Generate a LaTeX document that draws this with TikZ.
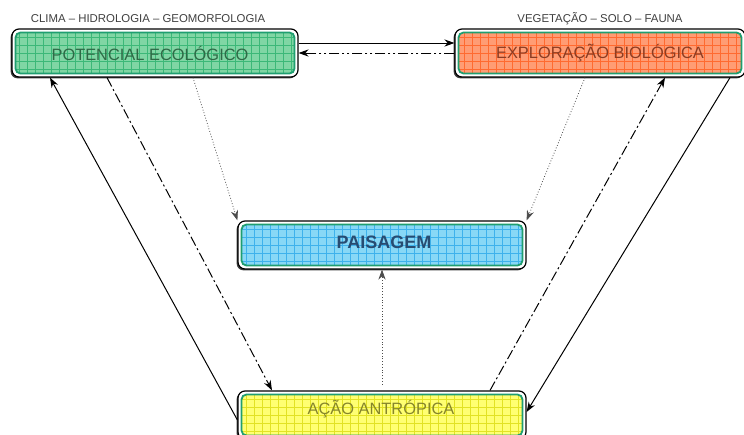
\documentclass[tikz,border=0pt]{standalone}
\usepackage{fontspec}
\setmainfont{Liberation Sans}
\usetikzlibrary{arrows.meta, shadows}

\definecolor{innerline}{HTML}{1F9E70}
\definecolor{potfill}{HTML}{80D6A4}
\definecolor{potgrid}{HTML}{3CB878}
\definecolor{pottext}{HTML}{2E6A46}
\definecolor{expfill}{HTML}{FF9C74}
\definecolor{expgrid}{HTML}{FF6A30}
\definecolor{exptext}{HTML}{8C3C22}
\definecolor{paifill}{HTML}{88D8F6}
\definecolor{paigrid}{HTML}{3EB2EC}
\definecolor{paitext}{HTML}{274C72}
\definecolor{acafill}{HTML}{FFFF72}
\definecolor{acagrid}{HTML}{E2E224}
\definecolor{acatext}{HTML}{86862A}

\begin{document}
\begin{tikzpicture}[x = 0.5pt, y = -0.5pt, line width = 0.5pt,
                        >={Stealth[length = 5pt, width = 3.6pt]},
                        outer/.style = {draw = black, fill = white, rounded corners = 3.5pt, line width = 0.6pt,
                                        inner sep = 0pt, minimum height = 24pt,
                                        drop shadow = {shadow xshift = -0.7pt, shadow yshift = -0.7pt, fill = black!75, opacity = 1}},
                        inner/.style = {draw = innerline, fill = #1, line width = 0.9pt, rounded corners = 2.5pt,
                                        inner sep = 0pt, minimum height = 20.5pt},
                        gridlines/.style = {path picture = {\draw [#1, line width = 0.35pt, step = 4pt]
                                        (path picture bounding box.south west) grid (path picture bounding box.north east);}},
                        txt/.style = {font = \fontsize{8.2}{10}\selectfont, inner sep = 0pt},
                        small/.style = {font = \fontsize{5.7}{7}\selectfont, text = black!75, inner sep = 0pt},
                        dashdot/.style = {dash pattern = on 5pt off 1.5pt on 1pt off 1.5pt},
                        dashdotdot/.style = {dash pattern = on 5pt off 1.5pt on 1pt off 1.5pt on 1pt off 1.5pt},
                        fine/.style = {densely dotted, line width = 0.4pt, black!70}]
      \useasboundingbox (0, 0) rectangle (744, 434);

      % boxes
      \node [outer, minimum width = 143pt] (pot) at (155, 53){};
      \node [inner = potfill, gridlines = potgrid, minimum width = 139.5pt] (pot-in) at (pot.center){};
      \node [outer, minimum width = 145pt] (exp) at (600, 53){};
      \node [inner = expfill, gridlines = expgrid, minimum width = 141.5pt] (exp-in) at (exp.center){};
      \node [outer, minimum width = 144pt] (pai) at (382, 245){};
      \node [inner = paifill, gridlines = paigrid, minimum width = 140.5pt] (pai-in) at (pai.center){};
      \node [outer, minimum width = 144pt] (aca) at (382, 415){};
      \node [inner = acafill, gridlines = acagrid, minimum width = 140.5pt] (aca-in) at (aca.center){};

      % texts
      \node [txt, text = pottext] (pot-t) at (150, 53){POTENCIAL ECOLÓGICO};
      \node [txt, text = exptext] (exp-t) at (600, 53){EXPLORAÇÃO BIOLÓGICA};
      \node [txt, font = \fontsize{9}{11}\selectfont\bfseries, text = paitext] (pai-t) at (384, 242){PAISAGEM};
      \node [txt, text = acatext] (aca-t) at (381, 409){AÇÃO ANTRÓPICA};
      \node [small] (pot-lbl) at (148, 19){CLIMA – HIDROLOGIA – GEOMORFOLOGIA};
      \node [small] (exp-lbl) at (600, 19){VEGETAÇÃO – SOLO – FAUNA};

      % connectors
      \draw [->] ([yshift = 5pt]pot.east) -- ([yshift = 5pt]exp.west);
      \draw [->, dashdotdot] (exp.west) -- (pot.east);
      \draw [->] ([yshift = -2.5pt]aca.west) -- ([xshift = -52.5pt]pot.south);
      \draw [->, dashdot] ([xshift = -24pt]pot.south) -- ([xshift = -55pt]aca.north);
      \draw [->, fine] ([xshift = 19pt]pot.south) -- (pai.north west);
      \draw [->, fine] ([xshift = -7.5pt]exp.south) -- (pai.north east);
      \draw [->, dashdot] ([xshift = 54pt]aca.north) -- ([xshift = 32.5pt]exp.south);
      \draw [->] ([xshift = 65pt]exp.south) -- ([yshift = 1.5pt]aca.east);
      \draw [->, fine] ([yshift = 3pt]aca.north) -- (pai.south);
      \end{tikzpicture}
\end{document}
